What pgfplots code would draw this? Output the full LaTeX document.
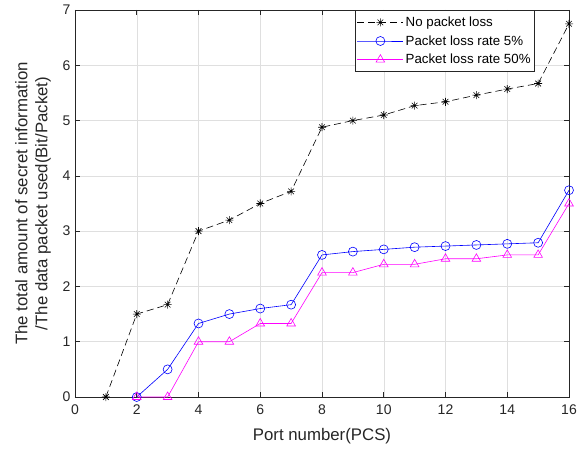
\documentclass[border=0pt]{standalone}
\usepackage{pgfplots}
\pgfplotsset{compat=1.18}
\usepackage{fontspec}
\setmainfont{Liberation Sans}

\definecolor{gridgray}{RGB}{223,223,223}
\definecolor{axgray}{RGB}{38,38,38}
\definecolor{mblue}{RGB}{0,0,255}
\definecolor{mmag}{RGB}{255,0,255}

% MATLAB-like asterisk: + and x together
\pgfdeclareplotmark{mstar}{%
  \pgfpathmoveto{\pgfqpoint{-\pgfplotmarksize}{0pt}}%
  \pgfpathlineto{\pgfqpoint{\pgfplotmarksize}{0pt}}%
  \pgfpathmoveto{\pgfqpoint{0pt}{-\pgfplotmarksize}}%
  \pgfpathlineto{\pgfqpoint{0pt}{\pgfplotmarksize}}%
  \pgfpathmoveto{\pgfqpoint{-0.707\pgfplotmarksize}{-0.707\pgfplotmarksize}}%
  \pgfpathlineto{\pgfqpoint{0.707\pgfplotmarksize}{0.707\pgfplotmarksize}}%
  \pgfpathmoveto{\pgfqpoint{-0.707\pgfplotmarksize}{0.707\pgfplotmarksize}}%
  \pgfpathlineto{\pgfqpoint{0.707\pgfplotmarksize}{-0.707\pgfplotmarksize}}%
  \pgfusepathqstroke}

\begin{document}
\begin{tikzpicture}
\begin{axis}[
    scale only axis,
    width=494pt, height=387pt,
    xmin=0, xmax=16, ymin=0, ymax=7,
    xtick={0,2,...,16}, ytick={0,1,...,7},
    grid=major,
    grid style={gridgray, line width=0.5pt},
    axis line style={axgray, line width=0.6pt},
    tick style={axgray, line width=0.6pt},
    tick align=inside,
    major tick length=5pt,
    ticklabel style={font=\fontsize{14}{16}\selectfont, text=axgray},
    xticklabel style={yshift=-4pt},
    yticklabel style={xshift=-1pt},
    /pgf/number format/assume math mode=true,
    xlabel={Port number(PCS)},
    ylabel={The total amount of secret information\\/The data packet used(Bit/Packet)},
    xlabel style={font=\fontsize{16.8}{20}\selectfont, text=axgray, yshift=-7pt},
    ylabel style={font=\fontsize{16.8}{20}\selectfont, text=axgray, align=center, yshift=5pt},
    legend style={at={(0.931,1)}, anchor=north east, draw=axgray, line width=0.6pt,
        font=\fontsize{13.3}{15}\selectfont, row sep=3.5pt,
        inner xsep=2pt, inner ysep=4.5pt, cells={anchor=west}},
    every axis plot post/.append style={
        legend image code/.code={%
            \draw[mark repeat=2, mark phase=2] plot coordinates {(0pt,0pt) (23pt,0pt) (46pt,0pt)};}},
]
\coordinate (ll) at (rel axis cs:0,0);
\addplot[black, dash pattern=on 7pt off 4pt, line width=0.6pt,
    mark=mstar, mark size=4pt, mark options={solid}] coordinates {
    (1,0) (2,1.5) (3,1.67) (4,3) (5,3.2) (6,3.5) (7,3.72) (8,4.88)
    (9,5.0) (10,5.1) (11,5.27) (12,5.34) (13,5.46) (14,5.57) (15,5.67) (16,6.75)
};
\addlegendentry{No packet loss}
\addplot[mblue, line width=0.6pt, mark=o, mark size=4.5pt] coordinates {
    (2,0) (3,0.5) (4,1.33) (5,1.5) (6,1.6) (7,1.67) (8,2.57) (9,2.63)
    (10,2.67) (11,2.71) (12,2.73) (13,2.75) (14,2.77) (15,2.79) (16,3.74)
};
\addlegendentry{Packet loss rate 5\%}
\addplot[mmag, line width=0.6pt, mark=triangle, mark size=5pt] coordinates {
    (2,0) (3,0) (4,1) (5,1) (6,1.33) (7,1.33) (8,2.25) (9,2.25)
    (10,2.4) (11,2.4) (12,2.5) (13,2.5) (14,2.57) (15,2.57) (16,3.5)
};
\addlegendentry{Packet loss rate 50\%}
\end{axis}
\path (ll) ++(-75pt,-52pt) rectangle ++(585pt,449pt);
\end{tikzpicture}
\end{document}
